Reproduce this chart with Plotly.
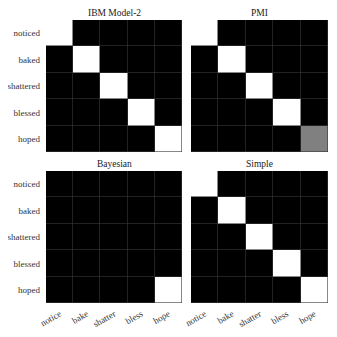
import plotly.graph_objects as go

verbs_in = ["noticed", "baked", "shattered", "blessed", "hoped"]
verbs_lemma = ["notice", "bake", "shatter", "bless", "hope"]
titles = ["IBM Model-2", "PMI", "Bayesian", "Simple"]

ibm = [[1, 0, 0, 0, 0],
       [0, 1, 0, 0, 0],
       [0, 0, 1, 0, 0],
       [0, 0, 0, 1, 0],
       [0, 0, 0, 0, 1]]
pmi = [[1, 0, 0, 0, 0],
       [0, 1, 0, 0, 0],
       [0, 0, 1, 0, 0],
       [0, 0, 0, 1, 0],
       [0, 0, 0, 0, 0.5]]
bayes = [[0, 0, 0, 0, 0],
         [0, 0, 0, 0, 0],
         [0, 0, 0, 0, 0],
         [0, 0, 0, 0, 0],
         [0, 0, 0, 0, 1]]
simple = [[1, 0, 0, 0, 0],
          [0, 1, 0, 0, 0],
          [0, 0, 1, 0, 0],
          [0, 0, 0, 1, 0],
          [0, 0, 0, 0, 1]]
matrices = [ibm, pmi, bayes, simple]

# page has an 8px body margin, so the figure is 321px and offsets are -8
OFF = 8
W, H = 321, 321
xpx = [[46 - OFF, 182 - OFF], [191 - OFF, 328 - OFF]]
ypx = [[20 - OFF, 152 - OFF], [171 - OFF, 303 - OFF]]
ML, MR, MT, MB = xpx[0][0], W - xpx[1][1], ypx[0][0], H - ypx[1][1]
PW, PH = W - ML - MR, H - MT - MB
xdoms = [[(a - ML) / PW, (b - ML) / PW] for a, b in xpx]
ydoms = [[(H - MB - b) / PH, (H - MB - a) / PH] for a, b in ypx]
font = dict(family="Liberation Serif, Times New Roman, serif", size=9, color="#333")

fig = go.Figure()
layout = {}
annotations = []
for k, (z, title) in enumerate(zip(matrices, titles)):
    r, c = divmod(k, 2)
    n = k + 1
    xa = "x" if n == 1 else f"x{n}"
    ya = "y" if n == 1 else f"y{n}"
    fig.add_trace(go.Heatmap(
        z=z, x=verbs_lemma, y=verbs_in,
        xaxis=xa, yaxis=ya,
        zmin=0, zmax=1,
        colorscale=[[0, "black"], [1, "white"]],
        showscale=False, xgap=0.6, ygap=0.6,
        hoverinfo="skip"
    ))
    layout[f"xaxis{'' if n == 1 else n}"] = dict(
        domain=xdoms[c], anchor=ya, showgrid=False, zeroline=False,
        showticklabels=(r == 1), tickangle=-30, ticks="", automargin=False,
        tickfont=font, showline=False, ticklabelstandoff=3
    )
    layout[f"yaxis{'' if n == 1 else n}"] = dict(
        domain=ydoms[r], anchor=xa, showgrid=False, zeroline=False,
        autorange="reversed", showticklabels=(c == 0), ticks="", automargin=False,
        tickfont=font, showline=False, ticklabelstandoff=5
    )
    annotations.append(dict(
        text=title, xref="paper", yref="paper",
        x=sum(xdoms[c]) / 2, y=ydoms[r][1], yanchor="bottom", xanchor="center",
        showarrow=False, font=dict(family=font["family"], size=9.5, color="#222"),
        yshift=0
    ))

fig.update_layout(
    width=W, height=H,
    margin=dict(l=ML, r=MR, t=MT, b=MB),
    paper_bgcolor="white", plot_bgcolor="#3a3a3a",
    showlegend=False, annotations=annotations,
    **layout
)

fig.write_html("out.html")
